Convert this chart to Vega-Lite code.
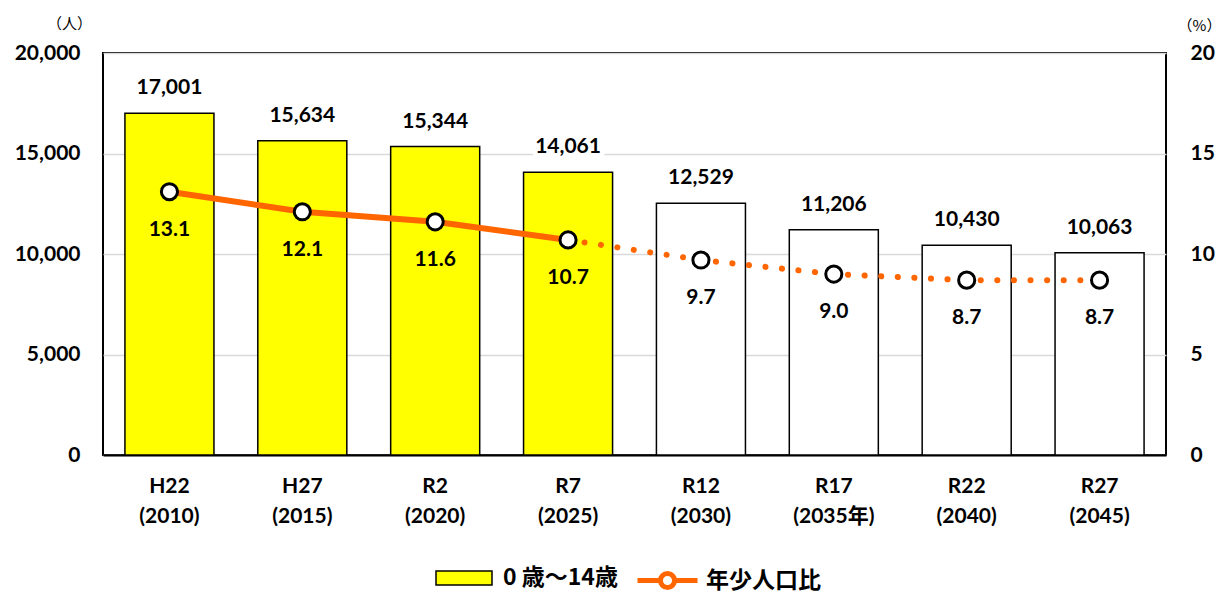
{
  "$schema": "https://vega.github.io/schema/vega-lite/v6.json",
  "width": 1063,
  "height": 402,
  "autosize": {"type": "none"},
  "padding": {"left": 103, "top": 53, "right": 57, "bottom": 139},
  "background": "white",
  "config": {
    "view": {"stroke": "#000000", "strokeWidth": 2},
    "font": "Lato",
    "axis": {"labelColor": "#000000", "titleColor": "#000000"},
    "legend": {"layout": {"bottom": {"anchor": "middle", "direction": "horizontal", "margin": 32}}}
  },
  "data": {
    "values": [
      {"i": 0, "label": "H22|(2010)", "pop": 17001, "ratio": 13.1, "series": "0 歳〜14歳"},
      {"i": 1, "label": "H27|(2015)", "pop": 15634, "ratio": 12.1, "series": "0 歳〜14歳"},
      {"i": 2, "label": "R2|(2020)", "pop": 15344, "ratio": 11.6, "series": "0 歳〜14歳"},
      {"i": 3, "label": "R7|(2025)", "pop": 14061, "ratio": 10.7, "series": "0 歳〜14歳"},
      {"i": 4, "label": "R12|(2030)", "pop": 12529, "ratio": 9.7, "series": "推計"},
      {"i": 5, "label": "R17|(2035年)", "pop": 11206, "ratio": 9.0, "series": "推計"},
      {"i": 6, "label": "R22|(2040)", "pop": 10430, "ratio": 8.7, "series": "推計"},
      {"i": 7, "label": "R27|(2045)", "pop": 10063, "ratio": 8.7, "series": "推計"}
    ]
  },
  "encoding": {
    "x": {
      "field": "label",
      "type": "nominal",
      "sort": null,
      "scale": {"paddingInner": 0.33, "paddingOuter": 0.165},
      "axis": {
        "title": null,
        "labelAngle": 0,
        "labelExpr": "split(datum.label, '|')",
        "labelFont": "Lato, Noto Sans CJK JP",
        "labelFontSize": 21,
        "labelFontWeight": "bold",
        "labelLineHeight": 30,
        "labelPadding": 20,
        "ticks": false,
        "domainColor": "#000000",
        "domainWidth": 2
      }
    }
  },
  "layer": [
    {
      "encoding": {
        "y": {
          "field": "pop",
          "type": "quantitative",
          "scale": {"domain": [0, 20000]},
          "axis": {
            "orient": "left",
            "values": [0, 5000, 10000, 15000, 20000],
            "format": ",.0f",
            "grid": true,
            "gridColor": "#D9D9D9",
            "gridWidth": 1.5,
            "domain": false,
            "ticks": false,
            "labelFontSize": 21,
            "labelFontWeight": "bold",
            "labelPadding": 23,
            "title": "（人）",
            "titleAngle": 0,
            "titleX": -34,
            "titleY": -30,
            "titleAlign": "center",
            "titleBaseline": "middle",
            "titleFont": "Noto Sans CJK JP",
            "titleFontSize": 15,
            "titleFontWeight": "normal"
          }
        }
      },
      "layer": [
        {
          "mark": {"type": "bar", "stroke": "#000000", "strokeWidth": 1.5},
          "encoding": {
            "fill": {
              "field": "series",
              "type": "nominal",
              "scale": {"domain": ["0 歳〜14歳", "推計"], "range": ["#FFFF00", "#FFFFFF"]},
              "legend": {
                "values": ["0 歳〜14歳"],
                "title": null,
                "orient": "bottom",
                "direction": "horizontal",
                "offset": 37,
                "labelFont": "Noto Sans CJK JP",
                "labelFontSize": 23,
                "labelFontWeight": "bold",
                "labelColor": "#000000",
                "labelLimit": 300,
                "labelOffset": 24,
                "symbolType": "M-2,-0.5H2V0.5H-2Z",
                "symbolSize": 784,
                "symbolStrokeColor": "#000000",
                "symbolStrokeWidth": 1.5,
                "symbolOpacity": 1
              }
            }
          }
        },
        {
          "mark": {"type": "text", "dy": -25, "fontSize": 21, "fontWeight": "bold", "stroke": "white", "strokeWidth": 10, "strokeJoin": "round", "baseline": "middle"},
          "encoding": {"text": {"field": "pop", "type": "quantitative", "format": ","}}
        },
        {
          "mark": {"type": "text", "dy": -25, "fontSize": 21, "fontWeight": "bold", "color": "#000000", "baseline": "middle"},
          "encoding": {"text": {"field": "pop", "type": "quantitative", "format": ","}}
        }
      ]
    },
    {
      "encoding": {
        "y": {
          "field": "ratio",
          "type": "quantitative",
          "scale": {"domain": [0, 20]},
          "axis": {
            "orient": "right",
            "values": [0, 5, 10, 15, 20],
            "grid": false,
            "domain": false,
            "ticks": false,
            "labelFontSize": 21,
            "labelFontWeight": "bold",
            "labelPadding": 24,
            "title": "（%）",
            "titleAngle": 0,
            "titleX": 33,
            "titleY": -28,
            "titleAlign": "center",
            "titleBaseline": "middle",
            "titleFont": "Noto Sans CJK JP",
            "titleFontSize": 15,
            "titleFontWeight": "normal"
          }
        }
      },
      "layer": [
        {
          "transform": [{"filter": "datum.i >= 3"}],
          "mark": {"type": "line", "strokeWidth": 6, "strokeDash": [0.1, 16.5], "strokeCap": "round"},
          "encoding": {
            "stroke": {
              "datum": "年少人口比",
              "type": "nominal",
              "scale": {"range": ["#FF6600"]},
              "legend": {
                "title": null,
                "orient": "bottom",
                "direction": "horizontal",
                "offset": 37,
                "labelFont": "Noto Sans CJK JP",
                "labelFontSize": 23,
                "labelFontWeight": "bold",
                "labelColor": "#000000",
                "labelLimit": 300,
                "labelOffset": 21,
                "symbolType": "M-2,0H-0.5M0.5,0H2M0.47,0A0.47,0.47 0 1,1 -0.47,0A0.47,0.47 0 1,1 0.47,0",
                "symbolSize": 900,
                "symbolStrokeWidth": 5,
                "symbolFillColor": "#FFFFFF",
                "symbolDash": []
              }
            }
          }
        },
        {
          "transform": [{"filter": "datum.i <= 3"}],
          "mark": {"type": "line", "strokeWidth": 6},
          "encoding": {
            "stroke": {"datum": "年少人口比", "type": "nominal"}
          }
        },
        {
          "mark": {"type": "point", "shape": "circle", "filled": true, "fill": "#FFFFFF", "stroke": "#000000", "strokeWidth": 3, "size": 260, "opacity": 1}
        },
        {
          "mark": {"type": "text", "dy": 38, "fontSize": 21, "fontWeight": "bold", "color": "#000000", "baseline": "middle"},
          "encoding": {"text": {"field": "ratio", "type": "quantitative", "format": ".1f"}}
        }
      ]
    }
  ],
  "resolve": {"scale": {"y": "independent"}}
}
